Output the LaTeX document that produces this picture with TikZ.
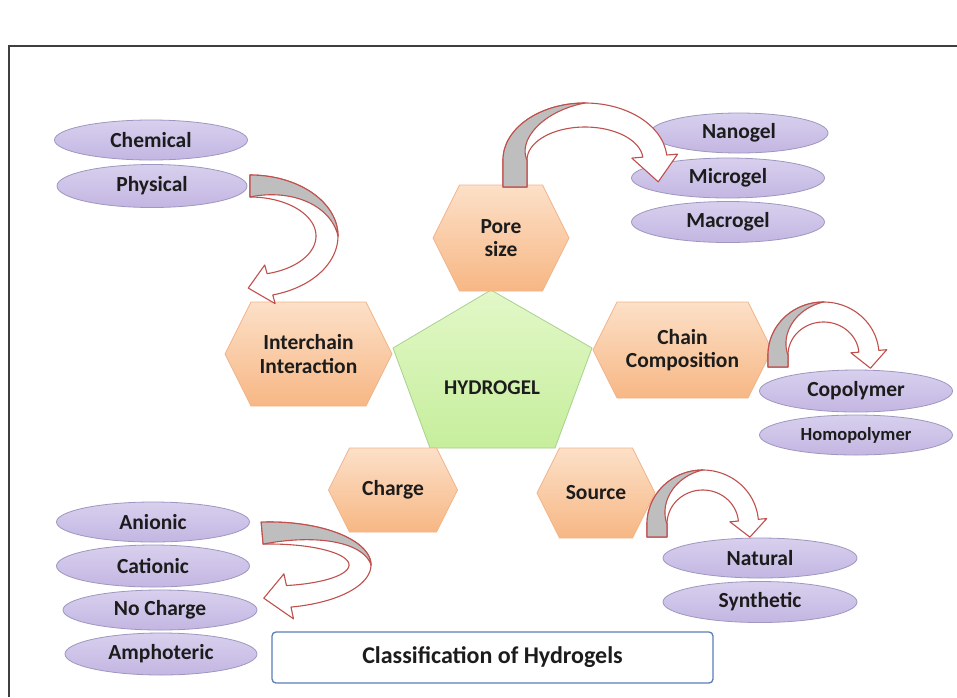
\documentclass[tikz,border=0pt]{standalone}
\usepackage{fontspec}
\setmainfont{Carlito}
\usetikzlibrary{shapes.geometric}
\definecolor{hexTop}{HTML}{FCE0C8}
\definecolor{hexBot}{HTML}{F7B784}
\definecolor{hexLine}{HTML}{F2B48A}
\definecolor{penTop}{HTML}{E2F8C8}
\definecolor{penBot}{HTML}{C6EE9C}
\definecolor{penLine}{HTML}{A9D18E}
\definecolor{ellTop}{HTML}{D8D0EE}
\definecolor{ellMid}{HTML}{EDEAF7}
\definecolor{ellBot}{HTML}{C3B6E2}
\definecolor{ellLine}{HTML}{9E97BF}
\definecolor{arrRed}{HTML}{C0504D}
\definecolor{arrGray}{HTML}{BEBEBE}
\definecolor{titleLine}{HTML}{5A7EB8}
\definecolor{frameCol}{HTML}{3F3F3F}
\definecolor{ink}{HTML}{1C1C1C}
\tikzset{
  ell/.style={ellipse, draw=ellLine, line width=0.8pt, top color=ellTop, middle color=ellMid, bottom color=ellBot, inner sep=0pt, text=ink, font=\fontsize{21.5}{25}\selectfont\bfseries},
  hexshape/.style={draw=hexLine, line width=0.8pt, top color=hexTop, bottom color=hexBot},
  hextext/.style={align=center, text=ink, inner sep=0pt, font=\fontsize{21.5}{23.5}\selectfont\bfseries},
  penshape/.style={draw=penLine, line width=0.8pt, top color=penTop, bottom color=penBot},
  arrowband/.style={draw=arrRed, line width=1.1pt, fill=white, line join=round},
  arrowback/.style={draw=arrRed, line width=1.1pt, fill=arrGray, line join=round},
  titlebox/.style={draw=titleLine, line width=1.3pt, rounded corners=4pt, fill=white, text=ink, font=\fontsize{24}{28}\selectfont\bfseries},
}
% hexagon: name, cx, cy, w, h, text
\newcommand{\hexa}[6]{%
  \pgfmathsetmacro\Hl{#2-#4/2}\pgfmathsetmacro\Hr{#2+#4/2}%
  \pgfmathsetmacro\Ht{#3-#5/2}\pgfmathsetmacro\Hb{#3+#5/2}%
  \pgfmathsetmacro\Hi{0.25*#5}%
  \path[hexshape] (\Hl,#3) -- ({\Hl+\Hi},\Ht) -- ({\Hr-\Hi},\Ht) -- (\Hr,#3) -- ({\Hr-\Hi},\Hb) -- ({\Hl+\Hi},\Hb) -- cycle;
  \node[hextext] (#1) at (#2,#3) {#6};
}
% curved arrow: cx cy rx ry h a1 a2 am ; uses \Aw (wing), \AL (head length), \Ae (tail extension)
\newcommand{\curvarrow}[8]{%
  \pgfmathsetmacro\Acx{#1}\pgfmathsetmacro\Acy{#2}%
  \pgfmathsetmacro\Arx{#3}\pgfmathsetmacro\Ary{#4}%
  \pgfmathsetmacro\Ah{#5}\pgfmathsetmacro\Aa{#6}\pgfmathsetmacro\Ab{#7}\pgfmathsetmacro\Am{#8}%
  \pgfmathsetmacro\Ttx{-\Arx*sin(\Aa)}\pgfmathsetmacro\Tty{\Ary*cos(\Aa)}%
  \pgfmathsetmacro\Tn{sqrt(\Ttx*\Ttx+\Tty*\Tty)}%
  \pgfmathsetmacro\Ex{-\Ae*\Ttx/\Tn}\pgfmathsetmacro\Ey{-\Ae*\Tty/\Tn}%
  \pgfmathsetmacro\Utx{-\Arx*sin(\Ab)}\pgfmathsetmacro\Uty{\Ary*cos(\Ab)}%
  \pgfmathsetmacro\Un{sqrt(\Utx*\Utx+\Uty*\Uty)}%
  \pgfmathsetmacro\Tipx{\Acx+\Arx*cos(\Ab)+\AL*\Utx/\Un}%
  \pgfmathsetmacro\Tipy{\Acy+\Ary*sin(\Ab)+\AL*\Uty/\Un}%
  \pgfmathsetmacro\Ro{\Ah+\Aw}%
  \filldraw[arrowband] ({\Acx+(\Arx+\Ah)*cos(\Aa)+\Ex},{\Acy+(\Ary+\Ah)*sin(\Aa)+\Ey})
    -- plot[domain=\Aa:\Ab, samples=60] ({\Acx+(\Arx+\Ah)*cos(\x)},{\Acy+(\Ary+\Ah)*sin(\x)})
    -- ({\Acx+(\Arx+\Ro)*cos(\Ab)},{\Acy+(\Ary+\Ro)*sin(\Ab)})
    -- (\Tipx,\Tipy)
    -- ({\Acx+(\Arx-\Ro)*cos(\Ab)},{\Acy+(\Ary-\Ro)*sin(\Ab)})
    -- plot[domain=\Ab:\Aa, samples=60] ({\Acx+(\Arx-\Ah)*cos(\x)},{\Acy+(\Ary-\Ah)*sin(\x)})
    -- ({\Acx+(\Arx-\Ah)*cos(\Aa)+\Ex},{\Acy+(\Ary-\Ah)*sin(\Aa)+\Ey}) -- cycle;
  \filldraw[arrowback] ({\Acx+(\Arx+\Ah)*cos(\Aa)+\Ex},{\Acy+(\Ary+\Ah)*sin(\Aa)+\Ey})
    -- plot[domain=\Aa:\Am, samples=50] ({\Acx+(\Arx+\Ah)*cos(\x)},{\Acy+(\Ary+\Ah)*sin(\x)})
    -- plot[domain=\Am:\Aa, samples=50] ({\Acx+(\Arx+\Ah-2*\Ah*(1-(\x-(\Aa))/(\Am-(\Aa))))*cos(\x)},{\Acy+(\Ary+\Ah-2*\Ah*(1-(\x-(\Aa))/(\Am-(\Aa))))*sin(\x)})
    -- ({\Acx+(\Arx-\Ah)*cos(\Aa)+\Ex},{\Acy+(\Ary-\Ah)*sin(\Aa)+\Ey}) -- cycle;
}
\begin{document}
\begin{tikzpicture}[x=1pt, y=-1pt]
\useasboundingbox (0,0) rectangle (957,697);
\fill[white] (0,0) rectangle (957,697);
% outer frame (cut by the picture edges)
\draw[frameCol, line width=2pt] (9,697) -- (9,46) -- (957,46);

% central pentagon
\path[penshape] (491,290) -- (592,348) -- (555,448) -- (430,448) -- (393,348) -- cycle;
\node[hextext, font=\fontsize{21}{24}\selectfont\bfseries] (hydrogel) at (492,388) {HYDROGEL};

% hexagons
\hexa{pore}{501}{238}{136}{106}{Pore\\size}
\hexa{inter}{308.5}{354}{167}{104}{Interchain\\Interaction}
\hexa{chain}{682.5}{350}{179}{96}{Chain\\Composition}
\hexa{charge}{393}{490}{129}{84}{Charge}
\hexa{source}{596}{493}{118}{90}{Source}

% ellipses
\node[ell, minimum width=193pt, minimum height=40pt] (chem) at (151,140) {Chemical};
\node[ell, minimum width=190pt, minimum height=43pt] (phys) at (152,186) {Physical};
\node[ell, minimum width=178pt, minimum height=40pt] (nano) at (739,133) {Nanogel};
\node[ell, minimum width=193pt, minimum height=40pt] (micro) at (728,178) {Microgel};
\node[ell, minimum width=193pt, minimum height=41pt] (macro) at (728,222) {Macrogel};
\node[ell, minimum width=193pt, minimum height=42pt] (copo) at (856,391) {Copolymer};
\node[ell, minimum width=193pt, minimum height=40pt, font=\fontsize{18.5}{22}\selectfont\bfseries] (homo) at (856,435) {Homopolymer};
\node[ell, minimum width=193pt, minimum height=40pt] (anio) at (153,522) {Anionic};
\node[ell, minimum width=193pt, minimum height=42pt] (cati) at (153,566) {Cationic};
\node[ell, minimum width=194pt, minimum height=40pt] (noch) at (160,610) {No Charge};
\node[ell, minimum width=192pt, minimum height=42pt] (amph) at (161,654) {Amphoteric};
\node[ell, minimum width=194pt, minimum height=40pt] (natu) at (760,558) {Natural};
\node[ell, minimum width=194pt, minimum height=41pt] (synt) at (760,602) {Synthetic};

% curved arrows
\def\Aw{9}\def\AL{22}\def\Ae{0}
\curvarrow{250}{236}{77}{50}{11}{-90}{75}{0}
\def\Aw{11}\def\AL{26}\def\Ae{27}
\curvarrow{585}{160}{70}{45}{12}{180}{355}{270}
\def\Aw{8}\def\AL{17}\def\Ae{12}
\curvarrow{823.5}{355}{45.5}{43}{10}{180}{355}{270}
\def\Aw{8.5}\def\AL{17}\def\Ae{13}
\curvarrow{702.75}{524}{45.75}{44}{10}{180}{355}{270}
\def\Aw{12}\def\AL{25}\def\Ae{0}
\curvarrow{270}{565}{90}{32}{11}{-95}{78}{0}

% title
\node[titlebox, minimum width=441pt, minimum height=51pt] (title) at (492.5,657.5) {Classification of Hydrogels};
\end{tikzpicture}
\end{document}
